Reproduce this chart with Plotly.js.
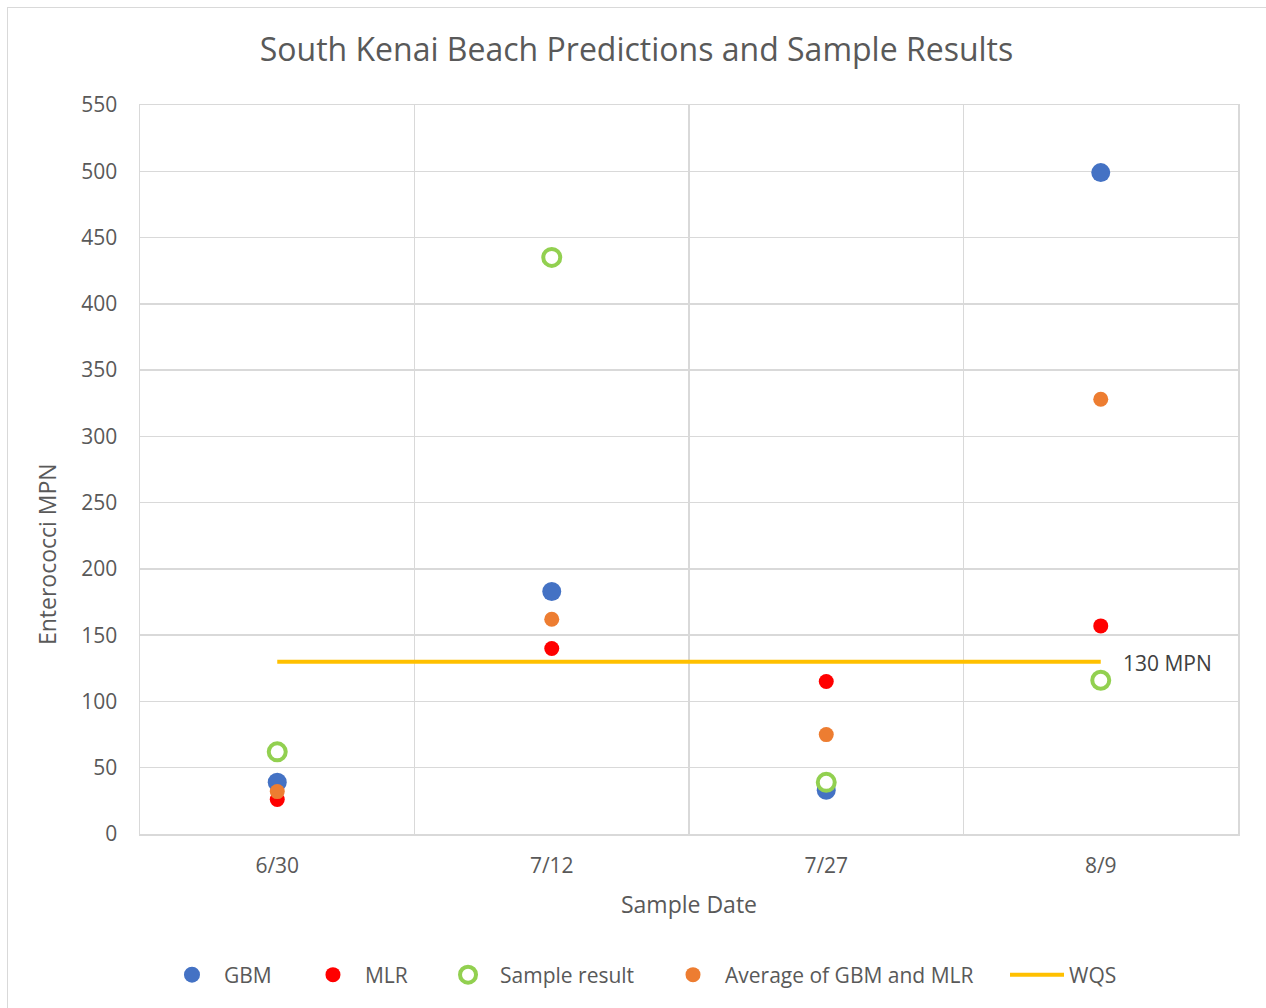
<!DOCTYPE html>
<html>
<head>
<meta charset="utf-8">
<script src="https://cdn.plot.ly/plotly-3.0.1.min.js"></script>
<style>
html,body{margin:0;padding:0;background:#fff;overflow:hidden;}
#wrap{position:absolute;left:7px;top:7px;width:1266px;height:1008px;}
#chart{position:absolute;left:0;top:0;width:1259px;height:1001px;}
#frame{position:absolute;left:0;top:0;width:1266px;height:1008px;border:1px solid #d9d9d9;box-sizing:border-box;pointer-events:none;}
</style>
</head>
<body>
<div id="wrap"><div id="chart"></div><div id="frame"></div></div>
<script>
const dates = ["6/30", "7/12", "7/27", "8/9"];
const gbm = [39, 183, 33, 499];
const mlr = [26, 140, 115, 157];
const sample = [62, 435, 39, 116];
const avgGbmMlr = [32, 162, 75, 328];
const wqsDates = ["6/30", "8/9"];
const wqs = [130, 130];

const font = "'Open Sans', Calibri, sans-serif";
const grey = "#595959";

const traces = [
  {x: dates, y: gbm, name: "GBM", type: "scatter", mode: "markers", legend: "legend",
   marker: {color: "#4472C4", size: 19}},
  {x: dates, y: mlr, name: "MLR", type: "scatter", mode: "markers", legend: "legend2",
   marker: {color: "#FF0000", size: 15}},
  {x: dates, y: sample, name: "Sample result", type: "scatter", mode: "markers", legend: "legend3",
   marker: {color: "#FFFFFF", size: 17, line: {color: "#92D050", width: 4}}},
  {x: dates, y: avgGbmMlr, name: "Average of GBM and MLR", type: "scatter", mode: "markers", legend: "legend4",
   marker: {color: "#ED7D31", size: 15}},
  {x: wqsDates, y: wqs, name: "WQS", type: "scatter", mode: "lines", legend: "legend5",
   line: {color: "#FFC000", width: 4}}
];

function leg(x) {
  return {orientation: "h", x: x, xanchor: "left", y: -0.1934, yanchor: "middle",
          bgcolor: "rgba(0,0,0,0)", itemwidth: 54,
          font: {family: font, size: 21, color: grey}};
}

const layout = {
  width: 1259, height: 1001,
  margin: {l: 133, r: 28, t: 98, b: 174},
  paper_bgcolor: "rgba(0,0,0,0)", plot_bgcolor: "#ffffff",
  font: {family: font, color: grey, size: 21},
  title: {text: "South Kenai Beach Predictions and Sample Results",
          font: {family: font, size: 32, color: grey},
          x: 0.5, xref: "container", y: 0.957, yanchor: "middle"},
  showlegend: true,
  legend: leg(0.0182),
  legend2: leg(0.1466),
  legend3: leg(0.2696),
  legend4: leg(0.4745),
  legend5: leg(0.7878),
  xaxis: {type: "category", categoryorder: "array", categoryarray: dates,
          range: [-0.5, 3.5], tickson: "boundaries", showgrid: true, gridcolor: "#d9d9d9", gridwidth: 1.5,
          showline: true, linecolor: "#d9d9d9", linewidth: 1.5, mirror: true, ticks: "",
          tickfont: {family: font, size: 21, color: grey}, ticklabelstandoff: 12,
          title: {text: "Sample Date", font: {family: font, size: 23, color: grey}, standoff: 19},
          zeroline: false, fixedrange: true},
  yaxis: {range: [0, 550], dtick: 50, tick0: 0, showgrid: true, gridcolor: "#d9d9d9", gridwidth: 1.5,
          showline: true, linecolor: "#d9d9d9", linewidth: 1.5, mirror: true, ticks: "",
          tickfont: {family: font, size: 21, color: grey}, zeroline: false, fixedrange: true,
          ticklabelstandoff: 17},
  annotations: [
    {text: "130 MPN", x: "8/9", y: 130, xref: "x", yref: "y", xanchor: "left", yanchor: "middle",
     xshift: 20, yshift: -1, showarrow: false, font: {family: font, size: 21, color: "#404040"}},
    {text: "Enterococci MPN", xref: "paper", yref: "paper", x: -0.0847, y: 0.384,
     xanchor: "center", yanchor: "middle", textangle: -90, showarrow: false,
     font: {family: font, size: 23, color: grey}}
  ]
};

Plotly.newPlot("chart", traces, layout, {displayModeBar: false, staticPlot: true});
</script>
</body>
</html>
